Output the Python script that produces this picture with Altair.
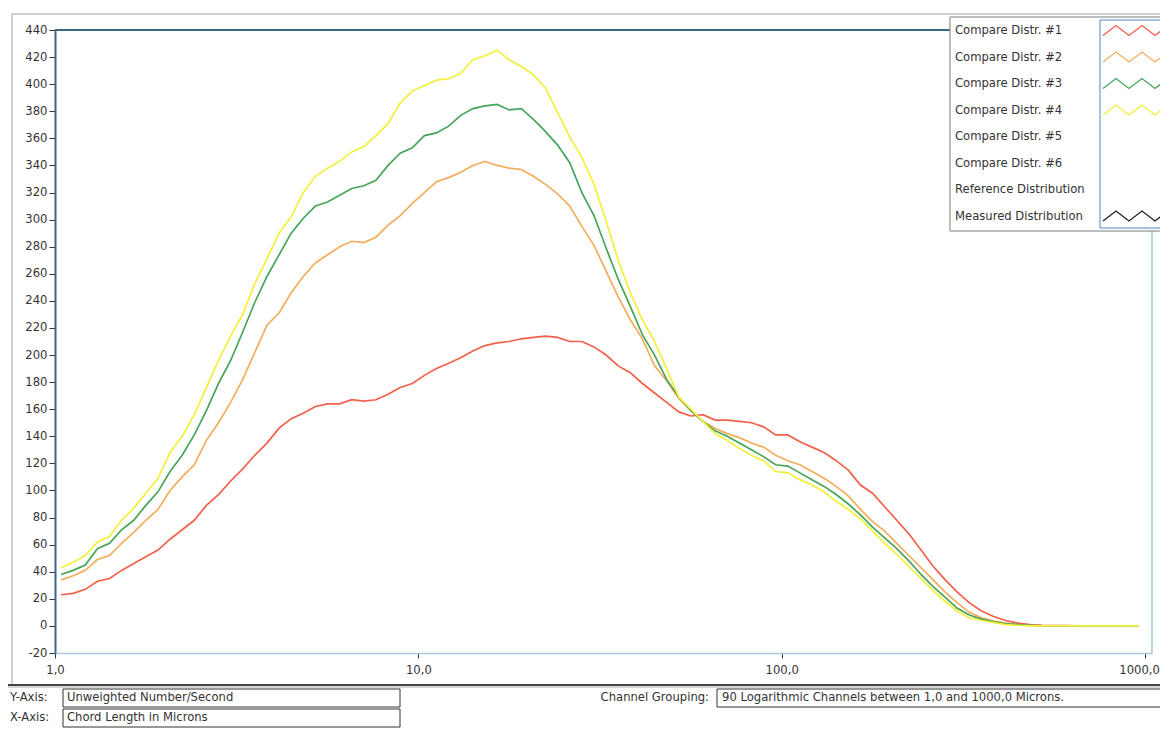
import altair as alt
import pandas as pd

# ---------------- data ----------------
n_channels = 90  # 90 logarithmic channels between 1,0 and 1000,0 microns

distr1 = [23, 24, 27, 33, 35, 41, 46, 51, 56, 64,
          71, 78, 89, 97, 107, 116, 126, 135, 146, 153,
          157, 162, 164, 164, 167, 166, 167, 171, 176, 179,
          185, 190, 194, 198, 203, 207, 209, 210, 212, 213,
          214, 213, 210, 210, 206, 200, 192, 187, 179, 172,
          165, 158, 155, 156, 152, 152, 151, 150, 147, 141,
          141, 136, 132, 128, 122, 115, 104, 98, 88, 78,
          68, 56, 44, 34, 25, 17, 11, 7, 4, 2,
          1, 0.5, 0.3, 0.2, 0, 0, 0, 0, 0, 0]
distr2 = [34, 37, 41, 49, 52, 61, 69, 78, 86, 100,
          110, 119, 137, 150, 165, 182, 202, 222, 231, 246,
          258, 268, 274, 280, 284, 283, 287, 296, 303, 312,
          320, 328, 331, 335, 340, 343, 340, 338, 337, 332,
          326, 319, 310, 295, 281, 262, 243, 226, 212, 192,
          181, 168, 159, 151, 146, 142, 139, 135, 132, 126,
          122, 119, 114, 109, 103, 96, 86, 77, 70, 61,
          52, 43, 34, 25, 17, 10, 6, 3.5, 2, 1,
          0.5, 0, 0, 0, 0, 0, 0, 0, 0, 0]
distr3 = [38, 41, 45, 57, 61, 71, 78, 89, 99, 114,
          126, 141, 159, 179, 196, 217, 239, 258, 274, 290,
          301, 310, 313, 318, 323, 325, 329, 340, 349, 353,
          362, 364, 369, 377, 382, 384, 385, 381, 382, 374,
          365, 355, 342, 320, 303, 279, 256, 236, 215, 200,
          182, 169, 159, 151, 144, 140, 135, 130, 125, 119,
          118, 113, 108, 103, 97, 90, 82, 73, 65, 57,
          48, 38, 29, 21, 13, 8, 5, 3, 1.5, 1,
          0.5, 0, 0, 0, 0, 0, 0, 0, 0, 0]
distr4 = [43, 47, 52, 62, 66, 78, 87, 98, 109, 128,
          140, 156, 176, 196, 214, 230, 253, 271, 290, 302,
          320, 332, 338, 343, 350, 354, 362, 371, 386, 395,
          399, 403, 404, 408, 418, 421, 425, 418, 413, 407,
          397, 379, 361, 346, 326, 299, 270, 246, 226, 210,
          190, 169, 160, 151, 142, 137, 131, 126, 122, 114,
          113, 108, 104, 99, 92, 86, 79, 70, 61, 53,
          44, 35, 26, 18, 11, 6, 4, 2.5, 1, 0.5,
          0, 0, 0, 0, 0, 0, 0, 0, 0, 0]

legend_labels = ["Compare Distr. #1", "Compare Distr. #2", "Compare Distr. #3",
                 "Compare Distr. #4", "Compare Distr. #5", "Compare Distr. #6",
                 "Reference Distribution", "Measured Distribution"]
series_colors = ["#f2604c", "#f4ad5c", "#46a55a", "#f2f03a",
                 "#b0b0b0", "#b0b0b0", "#b0b0b0", "#222222"]
shown_in_key = [0, 1, 2, 3, 7]

x_ticks = [1, 10, 100, 1000]
y_ticks = list(range(-20, 441, 20))

y_axis_caption = "Unweighted Number/Second"
x_axis_caption = "Chord Length in Microns"
grouping_caption = "90 Logarithmic Channels between 1,0 and 1000,0 Microns."

# ---------------- tables ----------------
rows = []
for name, vals in zip(legend_labels[:4], [distr1, distr2, distr3, distr4]):
    for i, v in enumerate(vals):
        rows.append({"channel": i, "size": 10 ** ((i + 0.5) / 30), "series": name, "value": v})
df = pd.DataFrame(rows)

key_df = pd.DataFrame({"label": legend_labels, "row": list(range(len(legend_labels)))})
zig_rows = []
for r in shown_in_key:
    for k in range(6):
        zig_rows.append({"label": legend_labels[r], "row": r, "k": k})
zig_df = pd.DataFrame(zig_rows)

FONT = "DejaVu Sans"
FS = 11.6
W, H = 1097, 623

color_scale = alt.Scale(domain=legend_labels, range=series_colors)

lines = alt.Chart(df).mark_line(strokeWidth=1.7, clip=True).encode(
    x=alt.X("size:Q",
            scale=alt.Scale(type="log", domain=[1, 1045], nice=False),
            axis=alt.Axis(values=x_ticks, title=None, grid=False, labelFlush=False,
                          labelExpr="replace(format(datum.value, '.1f'), '.', ',')",
                          labelOffset={"expr": "datum.value == 1000 ? -6 : 0"},
                          domainColor="#a9c9e3", domainWidth=1.5,
                          tickColor="#333333", tickSize=5, labelPadding=6,
                          labelFont=FONT, labelFontSize=FS, labelColor="#333333")),
    y=alt.Y("value:Q",
            scale=alt.Scale(domain=[-20, 440], nice=False, zero=False),
            axis=alt.Axis(values=y_ticks, title=None, grid=False,
                          labelExpr="'' + datum.value",
                          domainColor="#3d6785", domainWidth=2,
                          tickColor="#333333", tickSize=6, labelPadding=2,
                          labelFont=FONT, labelFontSize=FS, labelColor="#333333")),
    color=alt.Color("series:N", scale=color_scale, legend=None),
    order=alt.Order("channel:Q"),
)

base = alt.Chart(pd.DataFrame({"d": [0]}))

top_border = base.mark_rule(color="#3d6785", strokeWidth=2).encode(
    x=alt.value(0), x2=alt.value(W), y=alt.value(0))
right_border = base.mark_rule(color="#a9c9e3", strokeWidth=1.5).encode(
    x=alt.value(W), y=alt.value(0), y2=alt.value(H))

frame_top = base.mark_rule(color="#a0a0a0", strokeWidth=1).encode(
    x=alt.value(-43), x2=alt.value(1115), y=alt.value(-16))
frame_left = base.mark_rule(color="#a0a0a0", strokeWidth=1).encode(
    x=alt.value(-43), y=alt.value(-16), y2=alt.value(656))
frame_bottom = base.mark_rule(color="#444444", strokeWidth=2).encode(
    x=alt.value(-47), x2=alt.value(1115), y=alt.value(655))
frame_bottom2 = base.mark_rule(color="#b0b0b0", strokeWidth=1).encode(
    x=alt.value(-47), x2=alt.value(1115), y=alt.value(657))

# legend box
key_box = base.mark_rect(fill="white", stroke="#7a7a7a", strokeWidth=1).encode(
    x=alt.value(895), x2=alt.value(1116), y=alt.value(-13), y2=alt.value(201))
key_inner = base.mark_rect(fill="white", stroke="#4f86b8", strokeWidth=1).encode(
    x=alt.value(1045), x2=alt.value(1116), y=alt.value(-10), y2=alt.value(198))
key_text = alt.Chart(key_df).transform_calculate(
    py="1 + datum.row * 26.5"
).mark_text(align="left", baseline="middle", font=FONT, fontSize=FS, color="#333333").encode(
    x=alt.value(900),
    y=alt.Y("py:Q", scale=None, axis=None),
    text="label:N",
)
key_zig = alt.Chart(zig_df).transform_calculate(
    px="1048 + datum.k * 13",
    py="0.5 + datum.row * 26.5 + (datum.k % 2 == 0 ? 5 : -5)",
).mark_line(strokeWidth=1.3).encode(
    x=alt.X("px:Q", scale=None, axis=None),
    y=alt.Y("py:Q", scale=None, axis=None),
    color=alt.Color("label:N", scale=color_scale, legend=None),
    detail="row:N",
    order=alt.Order("k:Q"),
)

# bottom captions
def label(txt, x, y, align="left"):
    return base.mark_text(align=align, baseline="middle", font=FONT, fontSize=FS,
                          color="#333333").encode(x=alt.value(x), y=alt.value(y), text=alt.value(txt))

def box(x, x2, y, y2):
    return base.mark_rect(fill="white", stroke="#333333", strokeWidth=1).encode(
        x=alt.value(x), x2=alt.value(x2), y=alt.value(y), y2=alt.value(y2))

captions = [
    label("Y-Axis:", -45, 668),
    label("X-Axis:", -45, 688),
    box(8, 345, 659, 677),
    box(8, 345, 679, 697),
    label(y_axis_caption, 12, 668),
    label(x_axis_caption, 12, 688),
    label("Channel Grouping:", 654, 668, align="right"),
    box(662, 1120, 659, 677),
    label(grouping_caption, 667, 668),
]

chart = alt.layer(
    frame_top, frame_left, frame_bottom, frame_bottom2,
    top_border, right_border,
    lines,
    key_box, key_inner, key_text, key_zig,
    *captions,
).properties(
    width=W, height=H,
    autosize=alt.AutoSizeParams(type="none"),
    padding={"left": 47, "top": 22, "right": 8, "bottom": 75},
    background="white",
).configure_view(stroke=None)

chart.save("out.html", embed_options={"renderer": "svg", "actions": False})
